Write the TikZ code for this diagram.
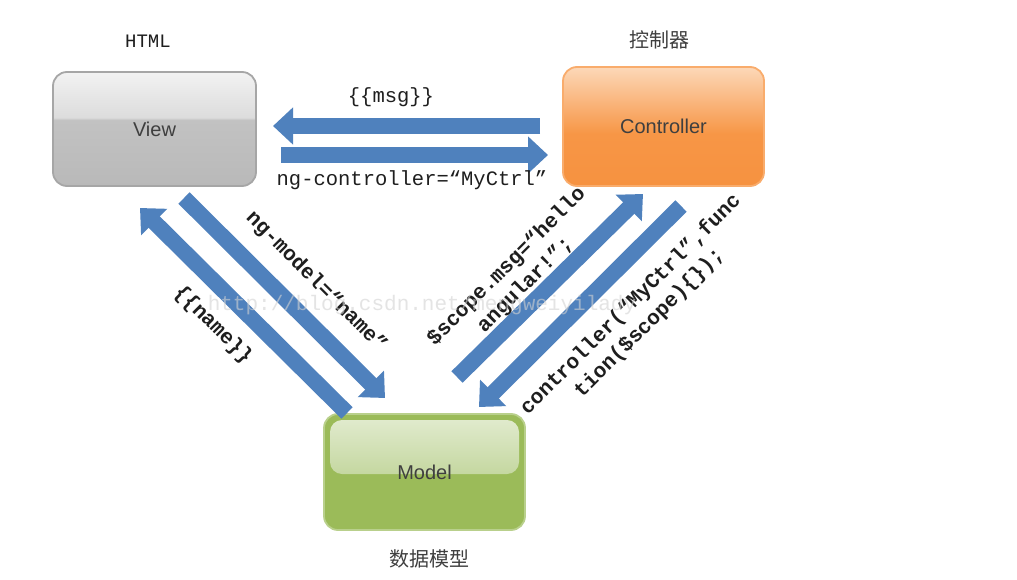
\documentclass[tikz,border=0pt]{standalone}
\usepackage{fontspec}
\setmainfont{Liberation Sans}
\setmonofont{Liberation Mono}
\newfontfamily\cjk{Noto Sans CJK SC}
\usetikzlibrary{arrows.meta,calc}
\definecolor{arrowblue}{HTML}{4F81BD}
\definecolor{textgray}{HTML}{3F3F3F}
\definecolor{labeltext}{HTML}{1E1E1E}
\definecolor{vb}{HTML}{B9B9B9}
\definecolor{vb2}{HTML}{C2C2C2}
\definecolor{vt2}{HTML}{DCDCDC}
\definecolor{vt}{HTML}{F2F2F2}
\definecolor{viewborder}{HTML}{A6A6A6}
\definecolor{cb}{HTML}{F69240}
\definecolor{cm}{HTML}{F79646}
\definecolor{ct}{HTML}{FCD8B8}
\definecolor{ctrlborder}{HTML}{F9AC6C}
\definecolor{modelgreen}{HTML}{9BBB59}
\definecolor{modeltop}{HTML}{E3ECD1}
\definecolor{modelmid}{HTML}{A9C473}
\definecolor{modelborder}{HTML}{B9D08C}
\pgfdeclareverticalshading{viewshade}{100bp}{color(0bp)=(vb); color(25bp)=(vb); color(54bp)=(vb2); color(55bp)=(vt2); color(75bp)=(vt); color(100bp)=(vt)}
\pgfdeclareverticalshading{ctrlshade}{100bp}{color(0bp)=(cb); color(25bp)=(cb); color(47bp)=(cm); color(75bp)=(ct); color(100bp)=(ct)}
\begin{document}
\begin{tikzpicture}[x=1pt,y=-1pt,
  box/.style={rounded corners=14pt, line width=1.8pt, inner sep=0pt,
    font=\fontsize{20}{23}\selectfont, text=textgray},
  viewbox/.style={box, draw=viewborder, shading=viewshade,
    minimum width=203pt, minimum height=114pt},
  ctrlbox/.style={box, draw=ctrlborder, shading=ctrlshade,
    minimum width=201pt, minimum height=119pt},
  modelbox/.style={box, draw=modelborder, fill=modelgreen,
    minimum width=201pt, minimum height=116pt,
    path picture={\shade[rounded corners=12pt, top color=modeltop, bottom color=modelmid]
      ([xshift=6pt,yshift=-6pt]path picture bounding box.north west) rectangle
      ([xshift=-6pt,yshift=-60pt]path picture bounding box.north east);}},
  bigarrow/.style={draw=arrowblue, line width=16pt,
    -{Triangle[width=36pt,length=20pt]}},
  monolabel/.style={font=\ttfamily\fontsize{20.5}{24}\selectfont, text=labeltext, inner sep=0pt},
  diaglabel/.style={font=\ttfamily\bfseries\fontsize{21}{26}\selectfont, text=labeltext,
    inner sep=0pt, align=center},
  cjklabel/.style={font=\cjk\fontsize{20}{24}\selectfont, text=textgray, inner sep=0pt},
  watermark/.style={font=\ttfamily\fontsize{21}{24}\selectfont, text=gray!35, opacity=0.6, inner sep=0pt}
]
\useasboundingbox (0,0) rectangle (1017,580);
\fill[white] (0,0) rectangle (1017,580);

% boxes
\node[viewbox]  (view)  at (154.5,129)  {View};
\node[ctrlbox]  (ctrl)  at (663.5,126.5) {Controller};
\node[modelbox] (model) at (424.5,472)  {Model};

% titles
\node[monolabel, font=\ttfamily\fontsize{19}{22}\selectfont] (html) at (148,41) {HTML};
\node[cjklabel] (ctrltitle) at (659,40) {控制器};
\node[cjklabel] (modeltitle) at (429,559) {数据模型};

% arrow end coordinates
\coordinate (vc1) at (540,126);
\coordinate (vc2) at (273,126);
\coordinate (cv1) at (281,155);
\coordinate (cv2) at (548,155);
\coordinate (mv1) at (347,413);
\coordinate (mv2) at (140,208);
\coordinate (vm1) at (184,198);
\coordinate (vm2) at (385,398);
\coordinate (mc1) at (457,377);
\coordinate (mc2) at (643,194);
\coordinate (cm1) at (681,206);
\coordinate (cm2) at (479,407);

% block arrows
\draw[bigarrow] (vc1) -- (vc2);
\draw[bigarrow] (cv1) -- (cv2);
\draw[bigarrow] (mv1) -- (mv2);
\draw[bigarrow] (vm1) -- (vm2);
\draw[bigarrow] (mc1) -- (mc2);
\draw[bigarrow] (cm1) -- (cm2);

% labels
\node[monolabel] (msg) at (391,97) {\{\{msg\}\}};
\node[monolabel] (ngc) at (412,180) {ng-controller=“MyCtrl”};
\node[diaglabel, rotate=-45] (ngm) at (316,282) {ng-model=“name”};
\node[diaglabel, rotate=-45] (nm) at (213,325) {\{\{name\}\}};
\node[diaglabel, rotate=45] (scope) at (516,276) {\$scope.msg=“hello\\angular!”;};
\node[diaglabel, rotate=45] (ctrlfn) at (640,314) {controller(“MyCtrl”,func\\tion(\$scope)\{\});};

% watermark
\node[watermark] (wm) at (422,305) {http://blog.csdn.net/mengweiyilady};
\end{tikzpicture}
\end{document}
